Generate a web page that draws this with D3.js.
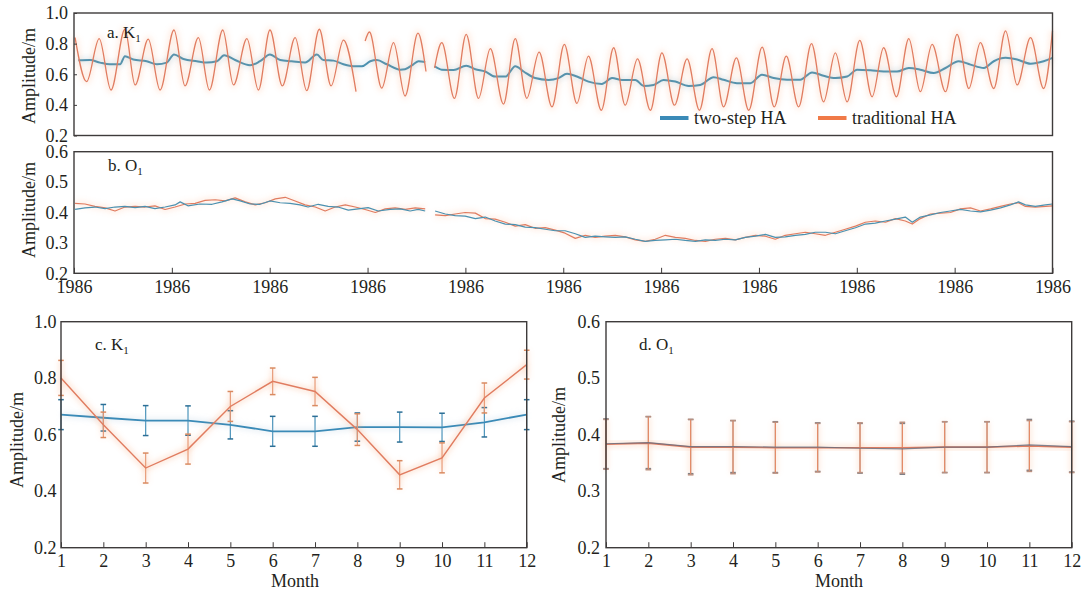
<!DOCTYPE html>
<html>
<head>
<meta charset="utf-8">
<script src="https://cdn.jsdelivr.net/npm/d3@7"></script>
<style>
  body { margin: 0; background: #fff; }
  svg { display: block; font-family: "Liberation Serif", "Times New Roman", serif; }
</style>
</head>
<body>
<svg id="chart" width="1086" height="594"></svg>
<script>
// ---- data -------------------------------------------------------------
// time axis: day of record, one tick every 36.5 days
const yearTickDays = [0, 36.5, 73, 109.5, 146, 182.5, 219, 255.5, 292, 328.5, 365];
const yearTickLabels = ["1986","1986","1986","1986","1986","1986","1986","1986","1986","1986","1986"];

const seriesNames = ["two-step HA", "traditional HA"];

// K1 amplitude, traditional HA (turning points of the fortnightly oscillation); null = gap
const k1Traditional = [
  [0.4,0.84],[4.7,0.552],[9.4,0.833],[13.8,0.497],[19.0,0.894],[22.8,0.53],[27.7,0.829],[32.1,0.497],
  [37.3,0.889],[41.4,0.524],[46.4,0.839],[50.5,0.497],[55.5,0.889],[59.5,0.53],[64.5,0.833],[68.8,0.497],
  [73.1,0.889],[77.7,0.524],[82.5,0.839],[86.8,0.493],[91.5,0.894],[95.9,0.524],[100.5,0.823],[105.2,0.486],
  [107,null],
  [108.6,0.817],[110.2,0.876],[114.8,0.509],[119.2,0.806],[123.5,0.458],[128.3,0.868],[131.3,0.618],
  [133,null],
  [134.5,0.641],[137.2,0.806],[141.9,0.443],[146.3,0.861],[150.9,0.443],[155.3,0.767],[160.2,0.405],
  [164.6,0.833],[168.9,0.443],[173.5,0.744],[178.3,0.387],[182.9,0.795],[187.6,0.41],[191.9,0.718],
  [196.7,0.365],[201.3,0.773],[205.6,0.398],[210.2,0.700],[215.0,0.365],[219.3,0.740],[224.0,0.398],
  [228.7,0.700],[233.3,0.365],[238.0,0.767],[242.3,0.387],[247.1,0.707],[251.7,0.365],[256.7,0.777],
  [261.2,0.387],[265.7,0.718],[270.3,0.387],[275.1,0.800],[279.6,0.42],[284.0,0.74],[288.4,0.42],
  [293.1,0.821],[297.7,0.453],[302.0,0.773],[306.8,0.453],[311.4,0.833],[315.7,0.486],[320.1,0.795],
  [325.1,0.486],[329.4,0.861],[333.8,0.507],[338.1,0.806],[343.1,0.507],[347.5,0.883],[351.8,0.53],
  [356.8,0.839],[361.7,0.507],[365,0.883]
];

// K1 amplitude, two-step HA
const k1TwoStep = [
  [1.6,0.691],[6.0,0.693],[9.7,0.676],[13.4,0.665],[17.2,0.665],[19.0,0.718],[22.1,0.696],[27.1,0.685],
  [30.9,0.665],[34.6,0.676],[37.3,0.729],[40.8,0.70],[45.8,0.685],[49.5,0.676],[53.3,0.685],[56.0,0.724],
  [60.1,0.693],[65.7,0.659],[69.4,0.685],[73.1,0.729],[76.9,0.693],[81.2,0.685],[86.2,0.676],[90.6,0.729],
  [93.0,0.693],[96.8,0.689],[100.5,0.665],[104.2,0.652],[107.4,0.652],[110.5,0.685],[113.0,0.693],
  [116.7,0.665],[121.7,0.63],[123.5,0.633],[126.6,0.665],[128.5,0.685],[131.0,0.68],
  [133,null],
  [134.5,0.652],[137.2,0.63],[141.6,0.627],[146.3,0.656],[149.7,0.633],[153.4,0.618],[157.1,0.585],
  [160.9,0.585],[164.6,0.652],[167.7,0.618],[172.0,0.575],[177.0,0.563],[180.7,0.575],[183.9,0.603],
  [187.6,0.585],[191.9,0.552],[196.9,0.537],[200.7,0.575],[204.4,0.563],[209.4,0.563],[212.5,0.524],
  [216.2,0.53],[219.9,0.563],[224.3,0.552],[229.3,0.524],[233.6,0.53],[238.6,0.581],[242.3,0.564],
  [247.3,0.542],[252.3,0.542],[256.6,0.597],[261.0,0.575],[266.0,0.564],[270.9,0.564],[275.3,0.612],
  [279.6,0.59],[284.0,0.575],[288.4,0.585],[292.1,0.63],[297.1,0.626],[302.1,0.618],[307.0,0.618],
  [311.4,0.641],[315.7,0.63],[320.7,0.608],[325.1,0.641],[330.0,0.685],[334.4,0.663],[339.4,0.641],
  [343.1,0.685],[347.5,0.707],[351.8,0.696],[356.8,0.669],[361.7,0.685],[365,0.707]
];

// O1 amplitude, two-step HA
const o1TwoStep = [
  [0.4,0.410],[4.1,0.415],[7.8,0.418],[11.6,0.413],[15.3,0.418],[19.0,0.420],[22.8,0.416],[26.5,0.420],
  [30.2,0.413],[34.0,0.418],[37.7,0.425],[39.6,0.435],[42.5,0.422],[47.0,0.428],[51.5,0.427],[55.2,0.435],
  [59.0,0.445],[62.0,0.438],[65.7,0.428],[69.4,0.427],[73.1,0.438],[76.9,0.432],[80.6,0.430],[84.3,0.425],
  [87.3,0.418],[91.1,0.427],[94.8,0.420],[98.5,0.418],[102.3,0.408],[106.0,0.412],[109.7,0.416],
  [113.5,0.405],[117.9,0.410],[121.7,0.412],[125.4,0.405],[128.4,0.410],[131.0,0.405],
  [133,null],
  [134.7,0.405],[138.5,0.395],[142.2,0.390],[145.9,0.388],[149.7,0.380],[153.4,0.385],[157.1,0.372],
  [160.9,0.362],[164.6,0.360],[168.3,0.352],[172.0,0.350],[175.8,0.345],[179.5,0.340],[183.2,0.340],
  [187.0,0.330],[190.7,0.318],[194.4,0.322],[198.2,0.320],[201.9,0.318],[205.6,0.320],[209.4,0.312],
  [213.1,0.305],[216.8,0.308],[220.6,0.310],[224.3,0.312],[228.0,0.308],[231.8,0.305],[235.5,0.310],
  [239.2,0.308],[243.0,0.312],[246.7,0.310],[250.4,0.318],[254.2,0.322],[257.9,0.328],[261.6,0.318],
  [265.3,0.320],[269.1,0.325],[272.8,0.328],[276.5,0.335],[280.3,0.335],[284.0,0.330],[287.7,0.340],
  [291.5,0.350],[295.2,0.362],[298.9,0.365],[302.7,0.372],[306.4,0.378],[310.1,0.385],[312.7,0.368],
  [315.7,0.385],[319.5,0.392],[323.2,0.400],[326.9,0.405],[330.7,0.410],[334.4,0.405],[338.1,0.402],
  [341.9,0.408],[345.6,0.415],[349.3,0.425],[352.3,0.435],[354.9,0.425],[358.6,0.420],[362.4,0.425],
  [365,0.428]
];

// O1 amplitude, traditional HA
const o1Traditional = [
  [0.4,0.430],[4.1,0.428],[7.8,0.420],[11.6,0.415],[15.3,0.405],[19.0,0.418],[22.8,0.420],[26.5,0.418],
  [30.2,0.422],[34.0,0.410],[37.7,0.418],[41.5,0.428],[45.2,0.430],[48.9,0.440],[52.7,0.442],[56.4,0.438],
  [60.1,0.448],[63.9,0.435],[67.6,0.425],[71.3,0.432],[75.1,0.445],[78.8,0.450],[82.5,0.438],[86.2,0.425],
  [90.0,0.418],[93.7,0.405],[97.4,0.418],[101.2,0.425],[104.9,0.418],[108.6,0.410],[112.4,0.400],
  [116.1,0.412],[119.8,0.415],[123.6,0.410],[127.3,0.415],[131.0,0.412],
  [133,null],
  [134.7,0.392],[138.5,0.390],[142.2,0.395],[145.9,0.400],[149.7,0.398],[153.4,0.380],[157.1,0.378],
  [160.9,0.368],[164.6,0.355],[168.3,0.360],[172.0,0.348],[175.8,0.350],[179.5,0.342],[183.2,0.332],
  [187.0,0.315],[190.7,0.325],[194.4,0.318],[198.2,0.322],[201.9,0.325],[205.6,0.320],[209.4,0.310],
  [213.1,0.305],[216.8,0.312],[220.6,0.325],[224.3,0.318],[228.0,0.315],[231.8,0.308],[235.5,0.305],
  [239.2,0.312],[243.0,0.315],[246.7,0.310],[250.4,0.318],[254.2,0.325],[257.9,0.322],[261.6,0.312],
  [265.3,0.325],[269.1,0.330],[272.8,0.335],[276.5,0.330],[280.3,0.325],[284.0,0.335],[287.7,0.345],
  [291.5,0.355],[295.2,0.368],[298.9,0.372],[302.7,0.368],[306.4,0.380],[310.1,0.372],[312.7,0.362],
  [315.7,0.380],[319.5,0.395],[323.2,0.398],[326.9,0.400],[330.7,0.412],[334.4,0.415],[338.1,0.405],
  [341.9,0.412],[345.6,0.420],[349.3,0.428],[352.3,0.432],[354.9,0.420],[358.6,0.418],[362.4,0.420],
  [365,0.422]
];

// monthly means and spread
const months = [1, 2, 3, 4, 5, 6, 7, 8, 9, 10, 11, 12];
const k1MonthTwoStep    = [0.671, 0.660, 0.650, 0.650, 0.635, 0.612, 0.612, 0.627, 0.627, 0.626, 0.644, 0.671];
const k1MonthTwoStepErr = [0.053, 0.047, 0.053, 0.052, 0.050, 0.053, 0.053, 0.050, 0.053, 0.050, 0.052, 0.053];
const k1MonthTrad       = [0.801, 0.635, 0.482, 0.549, 0.700, 0.789, 0.753, 0.618, 0.458, 0.518, 0.730, 0.848];
const k1MonthTradErr    = [0.062, 0.045, 0.053, 0.053, 0.053, 0.047, 0.050, 0.056, 0.050, 0.053, 0.053, 0.051];
const o1MonthTwoStep    = [0.384, 0.386, 0.379, 0.379, 0.378, 0.378, 0.376, 0.375, 0.378, 0.378, 0.382, 0.379];
const o1MonthTwoStepErr = [0.044, 0.046, 0.048, 0.046, 0.045, 0.043, 0.044, 0.045, 0.045, 0.045, 0.045, 0.045];
const o1MonthTrad       = [0.383, 0.385, 0.378, 0.378, 0.377, 0.377, 0.377, 0.377, 0.378, 0.378, 0.380, 0.378];
const o1MonthTradErr    = [0.044, 0.047, 0.049, 0.047, 0.045, 0.043, 0.044, 0.045, 0.045, 0.045, 0.045, 0.045];

const yTicksK1 = [0.2, 0.4, 0.6, 0.8, 1.0];
const yTicksO1 = [0.2, 0.3, 0.4, 0.5, 0.6];

// ---- drawing ----------------------------------------------------------
const COL = {
  blue: "#3a8ab7", blueLine: "#4b91b0",
  orange: "#f07a48", orangeLine: "#e07c60", halo: "#f6a070",
  frame: "#3e3b3b", text: "#231f20"
};

const svg = d3.select("#chart");
const defs = svg.append("defs");
defs.append("filter").attr("id", "soft")
  .attr("x", "-10%").attr("y", "-60%").attr("width", "120%").attr("height", "220%")
  .append("feGaussianBlur").attr("stdDeviation", 2.5);

const xTime = d3.scaleLinear().domain([0, 365]).range([74, 1052.5]);
const yA = d3.scaleLinear().domain([0.2, 1.0]).range([135.5, 13]);
const yB = d3.scaleLinear().domain([0.2, 0.6]).range([273.3, 151.7]);
const xC = d3.scaleLinear().domain([1, 12]).range([61, 526.7]);
const yC = d3.scaleLinear().domain([0.2, 1.0]).range([547.7, 321.7]);
const xD = d3.scaleLinear().domain([1, 12]).range([606, 1071.7]);
const yD = d3.scaleLinear().domain([0.2, 0.6]).range([547.7, 321.7]);

function styleAxis(g) {
  g.select(".domain").remove();
  g.selectAll(".tick line").attr("stroke", COL.frame).attr("stroke-width", 1);
  g.selectAll(".tick text").attr("fill", COL.text).attr("font-size", 18)
    .attr("font-family", "Liberation Serif, Times New Roman, serif");
}

function frame(x, y) {
  const [x0, x1] = x.range(), [y0, y1] = y.range();
  svg.append("rect")
    .attr("x", x0).attr("y", y1).attr("width", x1 - x0).attr("height", y0 - y1)
    .attr("fill", "none").attr("stroke", COL.frame).attr("stroke-width", 1.4);
}

function yAxis(x, y, ticks, fmt, pad, inner) {
  svg.append("g").attr("transform", `translate(${x.range()[0]},0)`)
    .call(d3.axisLeft(y).tickValues(ticks).tickFormat(d3.format(fmt)).tickSize(inner).tickPadding(pad))
    .call(styleAxis);
}

function xAxis(x, y, ticks, labels, pad) {
  svg.append("g").attr("transform", `translate(0,${y.range()[0]})`)
    .call(d3.axisBottom(x).tickValues(ticks).tickFormat((d, i) => labels[i]).tickSize(-5.5).tickPadding(pad))
    .call(styleAxis);
}

function yTitle(cx, cy) {
  svg.append("text").attr("transform", `translate(${cx},${cy}) rotate(-90)`)
    .attr("text-anchor", "middle").attr("dominant-baseline", "central")
    .attr("font-size", 18).attr("fill", COL.text).text("Amplitude/m");
}

function panelLabel(x, y, main, sub) {
  const t = svg.append("text").attr("x", x).attr("y", y).attr("font-size", 17).attr("fill", COL.text);
  t.append("tspan").text(main);
  t.append("tspan").attr("font-size", 11).attr("dy", 4).text(sub);
}

function timeLine(data, x, y, color, width, halo, haloOpacity, curve) {
  const line = d3.line().defined(d => d[1] !== null)
    .x(d => x(d[0])).y(d => y(d[1])).curve(curve);
  if (halo) {
    svg.append("path").datum(data).attr("d", line).attr("fill", "none")
      .attr("stroke", halo).attr("stroke-width", 7).attr("stroke-opacity", haloOpacity)
      .attr("stroke-linejoin", "round").attr("filter", "url(#soft)");
  }
  svg.append("path").datum(data).attr("d", line).attr("fill", "none")
    .attr("stroke", color).attr("stroke-width", width).attr("stroke-linejoin", "round");
}

function errorBars(x, y, vals, errs, color, capColor, barWidth, halo) {
  const pts = months.map((m, i) => [m, vals[i], errs[i]]);
  const g = svg.append("g");
  if (halo) {
    const h = g.append("g").attr("filter", "url(#soft)").attr("stroke", halo)
      .attr("stroke-opacity", 0.18).attr("stroke-width", 6).attr("fill", "none");
    pts.forEach(p => h.append("line").attr("x1", x(p[0])).attr("x2", x(p[0]))
      .attr("y1", y(p[1] - p[2])).attr("y2", y(p[1] + p[2])));
  }
  pts.forEach(p => {
    const cx = x(p[0]);
    g.append("line").attr("x1", cx).attr("x2", cx).attr("y1", y(p[1] - p[2])).attr("y2", y(p[1] + p[2]))
      .attr("stroke", color).attr("stroke-width", barWidth);
    [p[1] - p[2], p[1] + p[2]].forEach(v => g.append("line")
      .attr("x1", cx - 2.8).attr("x2", cx + 2.8).attr("y1", y(v)).attr("y2", y(v))
      .attr("stroke", capColor).attr("stroke-width", 1.5));
  });
}

function monthLine(x, y, vals, color, width, opacity, halo) {
  const pts = months.map((m, i) => [m, vals[i]]);
  const line = d3.line().x(d => x(d[0])).y(d => y(d[1]));
  if (halo) {
    svg.append("path").datum(pts).attr("d", line).attr("fill", "none")
      .attr("stroke", halo).attr("stroke-width", 7).attr("stroke-opacity", 0.2).attr("filter", "url(#soft)");
  }
  svg.append("path").datum(pts).attr("d", line).attr("fill", "none")
    .attr("stroke", color).attr("stroke-width", width).attr("stroke-opacity", opacity);
}

// panel a: K1 time series
timeLine(k1TwoStep, xTime, yA, COL.blueLine, 2, "#a9cadb", 0.25, d3.curveMonotoneX);
timeLine(k1Traditional, xTime, yA, COL.orangeLine, 1.3, COL.halo, 0.16, d3.curveMonotoneX);
frame(xTime, yA);
yAxis(xTime, yA, yTicksK1, ".1f", 6, -3);
yTitle(29, 76);
panelLabel(107, 38, "a. K", "1");

// legend
const legend = [
  { name: seriesNames[0], color: COL.blue, x: 660 },
  { name: seriesNames[1], color: COL.orange, x: 818 }
];
legend.forEach(l => {
  svg.append("rect").attr("x", l.x).attr("y", 116).attr("width", 28.5).attr("height", 4).attr("fill", l.color);
  svg.append("text").attr("x", l.x + 34).attr("y", 124).attr("font-size", 18).attr("fill", COL.text).text(l.name);
});

// panel b: O1 time series
timeLine(o1Traditional, xTime, yB, COL.orangeLine, 1.2, COL.halo, 0.14, d3.curveLinear);
timeLine(o1TwoStep, xTime, yB, COL.blueLine, 1.2, null, 0, d3.curveLinear);
frame(xTime, yB);
yAxis(xTime, yB, yTicksO1, ".1f", 6, 0);
xAxis(xTime, yB, yearTickDays, yearTickLabels, 7);
yTitle(29, 210);
panelLabel(108, 171, "b. O", "1");

// panel c: monthly K1
errorBars(xC, yC, k1MonthTwoStep, k1MonthTwoStepErr, "#4a93ba", "#2c6f96", 1.2, null);
monthLine(xC, yC, k1MonthTwoStep, COL.blue, 1.8, 1, "#a9cadb");
errorBars(xC, yC, k1MonthTrad, k1MonthTradErr, "#e59470", "#d98a60", 1.1, COL.halo);
monthLine(xC, yC, k1MonthTrad, COL.orangeLine, 1.4, 1, COL.halo);
frame(xC, yC);
yAxis(xC, yC, yTicksK1, ".1f", 4.5, 0);
xAxis(xC, yC, months, months.map(String), 6.5);
yTitle(17, 440);
panelLabel(95, 350, "c. K", "1");
svg.append("text").attr("x", 295).attr("y", 587).attr("text-anchor", "middle")
  .attr("font-size", 18).attr("fill", COL.text).text("Month");

// panel d: monthly O1
errorBars(xD, yD, o1MonthTwoStep, o1MonthTwoStepErr, "#8a8f98", "#7a7f88", 1.1, null);
errorBars(xD, yD, o1MonthTrad, o1MonthTradErr, "#eb8a62", "#b99080", 1.1, COL.halo);
monthLine(xD, yD, o1MonthTrad, COL.orangeLine, 1.6, 1, COL.halo);
monthLine(xD, yD, o1MonthTwoStep, "#5b6b80", 1.2, 0.75, null);
frame(xD, yD);
yAxis(xD, yD, yTicksO1, ".1f", 6, 0);
xAxis(xD, yD, months, months.map(String), 6.5);
yTitle(559, 435);
panelLabel(639, 350, "d. O", "1");
svg.append("text").attr("x", 839).attr("y", 587).attr("text-anchor", "middle")
  .attr("font-size", 18).attr("fill", COL.text).text("Month");
</script>
</body>
</html>
